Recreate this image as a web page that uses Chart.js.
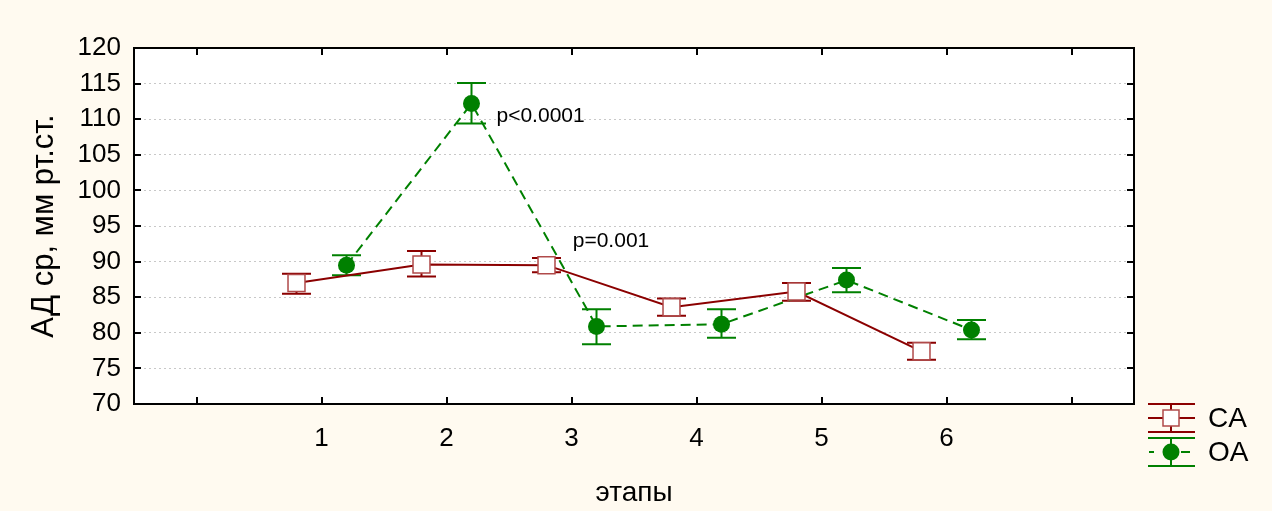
<!DOCTYPE html>
<html>
<head>
<meta charset="utf-8">
<script src="https://cdn.jsdelivr.net/npm/chart.js@4"></script>
<style>
  html, body { margin: 0; padding: 0; background: #fffaf0; }
  #wrap { width: 1272px; height: 511px; }
</style>
</head>
<body>
<div id="wrap"><canvas id="chart" width="1272" height="511"></canvas></div>
<script>
// stages and mean BP with +/- error limits for both groups
const stages = [1, 2, 3, 4, 5, 6];
const caMean = [87.0, 89.6, 89.5, 83.6, 85.8, 77.4];
const caLow  = [85.5, 87.9, 88.5, 82.4, 84.5, 76.2];
const caHigh = [88.3, 91.5, 90.5, 84.8, 87.0, 78.6];
const oaMean = [89.5, 112.2, 80.9, 81.2, 87.4, 80.4];
const oaLow  = [88.1, 109.4, 78.4, 79.3, 85.7, 79.1];
const oaHigh = [90.9, 115.1, 83.3, 83.3, 89.1, 81.8];
const seriesNames = ['CA', 'OA'];
const pNotes = ['p<0.0001', 'p=0.001'];

const CA_COLOR = '#8b0000';
const OA_COLOR = '#008000';
const SHIFT = 0.2; // groups are drawn side by side around each stage
const FONT = "'Liberation Sans', Arial, sans-serif";

const pts = (means, dx) => stages.map((s, i) => ({ x: s + dx, y: means[i] }));

const errorBars = [
  { low: caLow, high: caHigh, dx: -SHIFT, color: CA_COLOR },
  { low: oaLow, high: oaHigh, dx: SHIFT, color: OA_COLOR }
];

const statPlot = {
  id: 'statPlot',
  beforeDraw(chart) {
    const { ctx, chartArea: a } = chart;
    ctx.save();
    ctx.fillStyle = '#fffaf0';
    ctx.fillRect(0, 0, chart.width, chart.height);
    ctx.fillStyle = '#ffffff';
    ctx.fillRect(a.left, a.top, a.right - a.left, a.bottom - a.top);
    ctx.restore();
  },
  beforeDatasetsDraw(chart) {
    const { ctx, scales: { x, y } } = chart;
    ctx.save();
    ctx.lineWidth = 2;
    errorBars.forEach((e) => {
      ctx.strokeStyle = e.color;
      stages.forEach((s, i) => {
        const px = x.getPixelForValue(s + e.dx);
        const y1 = y.getPixelForValue(e.low[i]);
        const y2 = y.getPixelForValue(e.high[i]);
        ctx.beginPath();
        ctx.moveTo(px, y1); ctx.lineTo(px, y2);
        ctx.moveTo(px - 14.5, y1); ctx.lineTo(px + 14.5, y1);
        ctx.moveTo(px - 14.5, y2); ctx.lineTo(px + 14.5, y2);
        ctx.stroke();
      });
    });
    ctx.restore();
  },
  afterDraw(chart) {
    const { ctx, chartArea: a, scales: { x, y } } = chart;
    ctx.save();
    // frame with inward ticks
    ctx.strokeStyle = '#000';
    ctx.lineWidth = 2;
    ctx.strokeRect(a.left, a.top, a.right - a.left, a.bottom - a.top);
    ctx.beginPath();
    for (let v = 70; v <= 120; v += 5) {
      const py = Math.round(y.getPixelForValue(v));
      ctx.moveTo(a.left, py); ctx.lineTo(a.left + 7, py);
      ctx.moveTo(a.right, py); ctx.lineTo(a.right - 7, py);
    }
    for (let v = 0; v <= 7; v++) {
      const px = Math.round(x.getPixelForValue(v));
      ctx.moveTo(px, a.top); ctx.lineTo(px, a.top + 7);
      ctx.moveTo(px, a.bottom); ctx.lineTo(px, a.bottom - 7);
    }
    ctx.stroke();

    // significance notes
    ctx.fillStyle = '#000';
    ctx.font = '21px ' + FONT;
    ctx.textBaseline = 'middle';
    ctx.textAlign = 'left';
    ctx.fillText(pNotes[0], x.getPixelForValue(2.4), y.getPixelForValue(110.4));
    ctx.fillText(pNotes[1], x.getPixelForValue(3.01), y.getPixelForValue(92.9));

    // legend
    const lx = a.right + 37;
    const drawSym = (cy, color, dashed) => {
      ctx.strokeStyle = color;
      ctx.lineWidth = 2;
      ctx.beginPath();
      ctx.moveTo(lx - 23, cy - 14); ctx.lineTo(lx + 24, cy - 14);
      ctx.moveTo(lx - 23, cy + 14); ctx.lineTo(lx + 24, cy + 14);
      ctx.moveTo(lx, cy - 14); ctx.lineTo(lx, cy + 14);
      ctx.stroke();
      ctx.beginPath();
      if (dashed) {
        ctx.moveTo(lx - 22, cy); ctx.lineTo(lx - 17, cy);
        ctx.moveTo(lx + 10, cy); ctx.lineTo(lx + 19, cy);
      } else {
        ctx.moveTo(lx - 23, cy); ctx.lineTo(lx + 24, cy);
      }
      ctx.stroke();
    };
    drawSym(418, CA_COLOR, false);
    ctx.fillStyle = '#fff';
    ctx.strokeStyle = '#b04a4a';
    ctx.lineWidth = 1.5;
    ctx.fillRect(lx - 8, 410, 16, 16);
    ctx.strokeRect(lx - 8, 410, 16, 16);
    drawSym(452, OA_COLOR, true);
    ctx.fillStyle = OA_COLOR;
    ctx.beginPath();
    ctx.arc(lx, 452, 8.5, 0, Math.PI * 2);
    ctx.fill();
    ctx.fillStyle = '#000';
    ctx.font = '28px ' + FONT;
    ctx.fillText(seriesNames[0], a.right + 74, 419);
    ctx.fillText(seriesNames[1], a.right + 74, 453);
    ctx.restore();
  }
};

new Chart(document.getElementById('chart'), {
  type: 'line',
  data: {
    datasets: [
      {
        label: seriesNames[0],
        data: pts(caMean, -SHIFT),
        borderColor: CA_COLOR,
        borderWidth: 2,
        pointStyle: 'rect',
        pointRadius: 12,
        pointBackgroundColor: '#ffffff',
        pointBorderColor: '#b04a4a',
        pointBorderWidth: 1.5
      },
      {
        label: seriesNames[1],
        data: pts(oaMean, SHIFT),
        borderColor: OA_COLOR,
        borderWidth: 2,
        borderDash: [10, 6],
        pointStyle: 'circle',
        pointRadius: 8.5,
        pointBackgroundColor: OA_COLOR,
        pointBorderColor: OA_COLOR,
        pointBorderWidth: 0
      }
    ]
  },
  options: {
    responsive: false,
    animation: false,
    layout: { padding: { top: 48, right: 138, left: 0, bottom: 0 } },
    plugins: { legend: { display: false }, tooltip: { enabled: false } },
    scales: {
      x: {
        type: 'linear',
        min: -0.5,
        max: 7.5,
        afterBuildTicks: (s) => { s.ticks = [0, 1, 2, 3, 4, 5, 6, 7].map((v) => ({ value: v })); },
        afterFit: (s) => { s.height = 107; },
        ticks: {
          autoSkip: false,
          maxRotation: 0,
          padding: 19,
          color: '#000',
          font: { family: FONT, size: 26 },
          callback: (v) => (stages.includes(v) ? String(v) : '')
        },
        grid: { display: false, drawTicks: false },
        border: { display: false },
        title: { display: true, text: 'этапы', color: '#000', font: { family: FONT, size: 28 }, padding: { top: 0, bottom: 1 } }
      },
      y: {
        min: 70,
        max: 120,
        afterFit: (s) => { s.width = 134; },
        ticks: { stepSize: 5, padding: 13, color: '#000', font: { family: FONT, size: 26 } },
        grid: { color: '#c8c8c8', lineWidth: 1, drawTicks: false },
        border: { display: false, dash: [2, 3] },
        title: { display: true, text: 'АД ср, мм рт.ст.', color: '#000', font: { family: FONT, size: 31 }, padding: { top: 26, bottom: 0 } }
      }
    }
  },
  plugins: [statPlot]
});
</script>
</body>
</html>
